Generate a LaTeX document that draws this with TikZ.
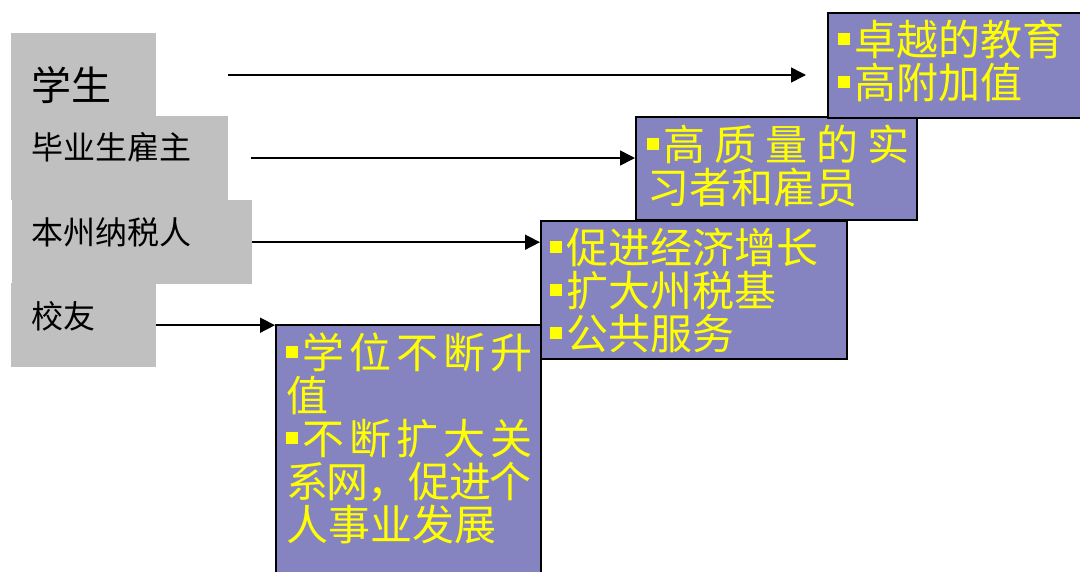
\documentclass[tikz,border=0pt]{standalone}
\usepackage{fontspec}
\setmainfont{Noto Sans CJK SC}
\usetikzlibrary{arrows.meta}
\definecolor{pfill}{RGB}{134,132,192}
\definecolor{gfill}{RGB}{192,192,192}
\definecolor{ytext}{RGB}{255,255,0}
\newcommand\yb{\raisebox{11pt}{\textcolor{ytext}{\rule{12pt}{12pt}}}\hspace{4pt}}
\newcommand\jl[2]{\makebox[#1][l]{#2}}
\newcommand\tk{\kern-1.3pt}
\tikzset{
  gbox/.style={fill=gfill, draw=none, inner sep=0pt, anchor=north west},
  lbl/.style={anchor=west, inner sep=0pt, font=\fontsize{32}{36}\selectfont},
  pbox/.style={fill=pfill, draw=black, line width=2pt, inner sep=0pt, anchor=north west},
  ptxt/.style={anchor=north west, inner sep=0pt, text=ytext, text width=300pt, align=left, font=\fontsize{42}{43}\selectfont},
  arr/.style={line width=1.6pt, -{Triangle[length=15pt,width=15pt]}},
}
\begin{document}
\begin{tikzpicture}[x=1pt,y=-1pt]
\clip (0,0) rectangle (1080,571);
\fill[white] (0,0) rectangle (1080,571);
% gray stakeholder boxes
\node[gbox, minimum width=145pt, minimum height=84pt] (g1) at (11,33) {};
\node[gbox, minimum width=217pt, minimum height=84pt] (g2) at (11,116) {};
\node[gbox, minimum width=240pt, minimum height=84pt] (g3) at (12,200) {};
\node[gbox, minimum width=145pt, minimum height=84pt] (g4) at (11,283) {};
\node[lbl, font=\fontsize{40}{44}\selectfont] (l1) at (31,85) {学生};
\node[lbl] (l2) at (31,147) {毕业生雇主};
\node[lbl] (l3) at (31,232) {本州纳税人};
\node[lbl] (l4) at (31,316) {校友};
% purple outcome boxes
\node[pbox, minimum width=265pt, minimum height=266pt] (pD) at (275,324) {};
\node[pbox, minimum width=306pt, minimum height=138pt] (pC) at (540,220) {};
\node[pbox, minimum width=281pt, minimum height=103pt] (pB) at (635,116) {};
\node[pbox, minimum width=268pt, minimum height=105pt] (pA) at (827,12) {};
\node[ptxt] (tA) at (838,20) {\yb 卓越的教育\\ \yb 高附加值};
\node[ptxt] (tB) at (647,125) {\yb\jl{246pt}{高\hfill 质\hfill 量\hfill 的\hfill 实}\\ 习者和雇员};
\node[ptxt] (tC) at (550,228) {\yb 促进经济增长\\ \yb 扩大州税基\\ \yb 公共服务};
\node[ptxt] (tD) at (286,333) {\yb\jl{230pt}{学\hfill 位\hfill 不\hfill 断\hfill 升}\\ 值\\ \yb\jl{230pt}{不\hfill 断\hfill 扩\hfill 大\hfill 关}\\ 系\tk 网\tk ，\tk 促\tk 进\tk 个\\ 人事业发展};
% connectors
\coordinate (s1) at (228,75);
\coordinate (s2) at (251,158);
\draw[arr, shorten >=21pt] (s1) -- (s1 -| pA.west);
\draw[arr] (s2) -- (s2 -| pB.west);
\draw[arr] (g3.east) -- (g3.east -| pC.west);
\draw[arr] (g4.east) -- (g4.east -| pD.west);
\end{tikzpicture}
\end{document}
